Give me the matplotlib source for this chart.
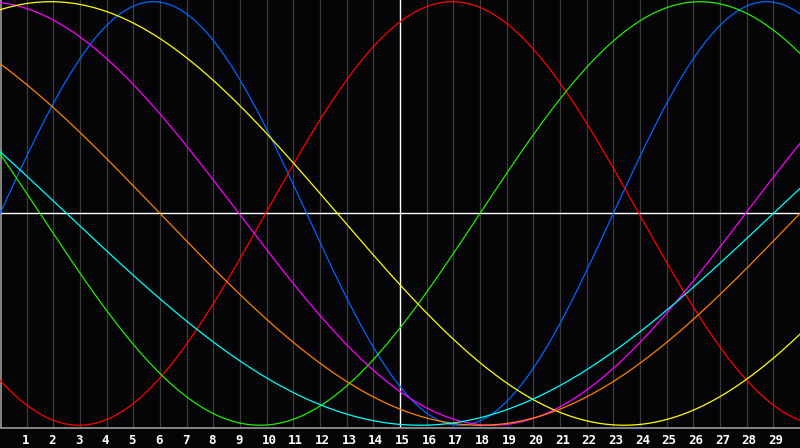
import numpy as np
import matplotlib
matplotlib.use('Agg')
import matplotlib.pyplot as plt
import matplotlib.transforms as mtransforms

# biorhythm cycles: period in days and the day where the curve crosses zero going up
names = ['physical', 'emotional', 'intellectual', 'intuitive', 'aesthetic', 'awareness', 'spiritual']
periods = [23, 28, 33, 38, 43, 48, 53]
zero_up = [0.0, 9.96, 18.0, 27.96, 34.15, 30.0, 29.0]
colors = ['#0066ff', '#ff0000', '#22ee00', '#ff00ff', '#ffff00', '#ff8000', '#00ffff']
days = list(range(1, 30))

W, H = 800, 448
fig = plt.figure(figsize=(W / 100, H / 100), dpi=100, facecolor='#050508')
ax = fig.add_axes([0, 1 - 428 / H, 1, 428 / H])
ax.set_facecolor('#050508')
ax.set_xlim(0, 30)
ax.set_ylim(-1.013, 1.008)

for d in days:
    c = '#ffffff' if d == 15 else '#3c3c3c'
    ax.axvline(d, color=c, lw=1.0 if d == 15 else 0.9, zorder=1)
ax.axhline(0, color='#ffffff', lw=1.0, zorder=1)
ax.axvline(0.02, color='#9a9a9a', lw=1.2, zorder=1)

t = np.linspace(0, 30, 801)
for p, z, c in zip(periods, zero_up, colors):
    ax.plot(t, np.sin(2 * np.pi * (t - z) / p), color=c, lw=0.9, zorder=3)

for s in ax.spines.values():
    s.set_visible(False)
ax.spines['bottom'].set_visible(True)
ax.spines['bottom'].set_color('#9a9a9a')
ax.spines['bottom'].set_linewidth(1.2)

ax.set_yticks([])
ax.set_xticks(days)
ax.set_xticklabels([str(d) for d in days], color='white', fontsize=9,
                   fontweight='bold', family='DejaVu Sans Mono')
ax.tick_params(axis='x', length=0, pad=4)
shift = mtransforms.ScaledTranslation(-5 / 100, 0, fig.dpi_scale_trans)
for lab in ax.get_xticklabels():
    lab.set_horizontalalignment('left')
    lab.set_transform(lab.get_transform() + shift)

fig.savefig('out.png', dpi=100, facecolor=fig.get_facecolor())
